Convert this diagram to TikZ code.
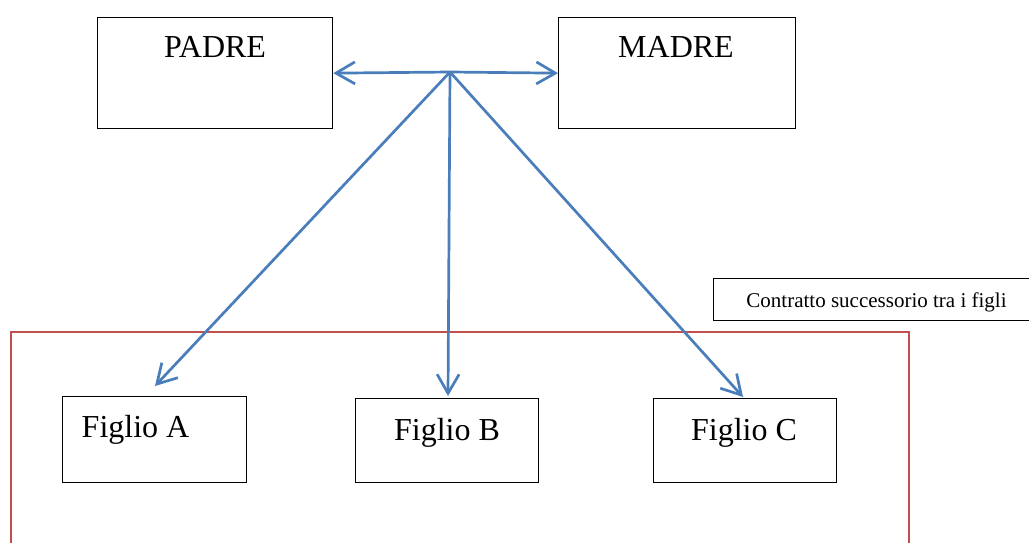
\documentclass[tikz,border=0pt]{standalone}
\usepackage{fontspec}
\setmainfont{Liberation Serif}
\usetikzlibrary{arrows.meta}
\definecolor{lineblue}{HTML}{4A7EBB}
\definecolor{framered}{HTML}{C0504D}
\tikzset{
  box/.style={draw=black, line width=1.3pt, minimum width=#1, inner sep=0pt, anchor=north west},
  big/.style={font=\fontsize{32}{36}\selectfont, anchor=base, inner sep=0pt},
  small/.style={font=\fontsize{21}{24}\selectfont, anchor=base, inner sep=0pt},
  conn/.style={draw=lineblue, line width=2.7pt, -{Straight Barb[length=19pt,width=22pt,line width=2.7pt]}},
}
\begin{document}
\begin{tikzpicture}[x=1pt,y=-1pt]
\useasboundingbox (0,0) rectangle (1029,543);
% boxes
\node[box=235pt, minimum height=111pt] (padre) at (97,17) {};
\node[box=237pt, minimum height=111pt] (madre) at (558,17) {};
\node[box=184pt, minimum height=86pt] (figa) at (62,396) {};
\node[box=183pt, minimum height=84pt] (figb) at (355,398) {};
\node[box=183pt, minimum height=84pt] (figc) at (653,398) {};
\node[box=330pt, minimum height=42pt] (contr) at (713,278) {};
\node[draw=framered, line width=1.5pt, minimum width=898pt, minimum height=240pt, inner sep=0pt, anchor=north west] (frame) at (10,331) {};
% texts
\node[big] (tpadre) at (215,58) {PADRE};
\node[big] (tmadre) at (676,58) {MADRE};
\node[big] (tfiga) at (135.5,437) {Figlio A};
\node[big] (tfigb) at (447,440) {Figlio B};
\node[big] (tfigc) at (744,440) {Figlio C};
\node[small] (tcontr) at (876.5,307) {Contratto successorio tra i figli};
% connectors
\coordinate (j) at (450,72);
\coordinate (ta) at (155,386);
\coordinate (tb) at (448,396);
\coordinate (tc) at (743,397);
\draw[conn] (j) -- (padre.east);
\draw[conn] (j) -- (madre.west);
\draw[conn] (j) -- (ta);
\draw[conn] (j) -- (tb);
\draw[conn] (j) -- (tc);
\end{tikzpicture}
\end{document}
